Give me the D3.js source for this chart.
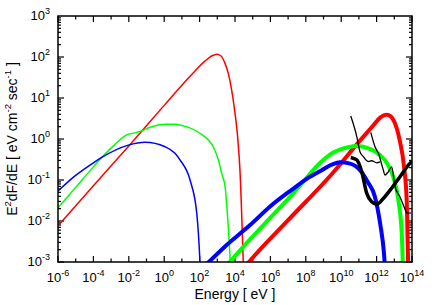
<!DOCTYPE html>
<html>
<head>
<meta charset="utf-8">
<style>
  body { margin: 0; background: #fff; }
  svg text { font-family: "Liberation Sans", Arial, sans-serif; fill: #000; }
</style>
</head>
<body>
<svg id="chart"></svg>
<script src="https://d3js.org/d3.v7.min.js"></script>
<script>
const width = 436, height = 305;
const margin = {top: 16, right: 24, bottom: 43, left: 58};

// points are [log10 E (eV), log10 E^2 dF/dE]
const redSync = [[-6,-2.12],[-4,-1.14],[-2,-0.17],[0,0.82],[1.5,1.55],[2.3,1.9],[2.7,2.03],[2.97,2.07],
  [3.2,2.03],[3.43,1.85],[3.62,1.6],[3.81,1.2],[4.0,0.63],[4.15,0.05],[4.28,-0.76],[4.48,-3.2]];
const greenSync = [[-6,-1.68],[-5,-1.18],[-4,-0.68],[-3.53,-0.45],[-2.78,-0.13],[-2.12,0.10],[-1.65,0.15],
  [-1.27,0.20],[-0.71,0.30],[0.1,0.36],[0.6,0.36],[1.08,0.32],[2.02,0.14],[2.77,-0.19],[3.06,-0.51],
  [3.25,-0.84],[3.44,-1.16],[3.58,-1.9],[3.72,-2.9],[3.75,-3.2]];
const blueSync = [[-6,-1.27],[-5.04,-0.9],[-4,-0.58],[-3.53,-0.45],[-2.03,-0.15],[-1.08,-0.08],[0.05,-0.19],
  [0.61,-0.35],[0.89,-0.51],[1.46,-1.0],[1.84,-1.81],[2.02,-3.0],[2.05,-3.3]];

const redIC = [[4.5,-3.15],[4.85,-2.97],[7.0,-1.98],[9.46,-0.86],[11.06,-0.04],[11.81,0.33],[12.2,0.52],
  [12.56,0.59],[12.8,0.55],[13.0,0.42],[13.3,-0.02],[13.55,-0.68],[13.7,-1.49],[13.78,-3.0],[13.8,-3.3]];
const greenIC = [[3.3,-3.2],[4.85,-2.45],[6.0,-1.92],[7.2,-1.37],[8.0,-0.97],[8.58,-0.68],[9.1,-0.47],
  [9.55,-0.33],[9.93,-0.26],[10.4,-0.2],[10.88,-0.17],[11.5,-0.22],[12.19,-0.39],[12.6,-0.6],[12.94,-0.92],
  [13.23,-1.49],[13.42,-2.3],[13.5,-3.3]];
const blueIC = [[2.4,-3.05],[3.44,-2.62],[4.85,-2.1],[6.0,-1.64],[7.2,-1.24],[8.2,-0.93],[8.9,-0.76],
  [9.5,-0.62],[9.93,-0.57],[10.5,-0.6],[11.06,-0.76],[11.5,-1.05],[11.9,-1.4],[12.2,-2.06],[12.42,-2.8],[12.5,-3.3]];

const sensThin1 = [[10.54,0.56],[10.88,0.06],[11.06,-0.31],[11.25,-0.43],[11.53,-0.55],[11.72,-0.53],
  [12.01,-0.58],[12.19,-0.56]];
const sensThin2 = [[11.67,0.16],[11.91,-0.19],[12.10,-0.35],[12.38,-0.76],[12.47,-0.88],[12.66,-0.80],
  [12.85,-0.68],[13.04,-1.16],[13.32,-1.41],[13.55,-1.65],[13.73,-1.81],[13.94,-1.80]];
const sensThick = [[10.54,-0.45],[10.88,-0.51],[11.16,-0.80],[11.44,-1.32],[11.72,-1.53],[12.01,-1.59],
  [12.38,-1.45],[12.85,-1.20],[13.32,-0.92],[13.89,-0.59],[14.0,-0.54]];

const xTickExps = [-6,-4,-2,0,2,4,6,8,10,12,14];
const yTickExps = [-3,-2,-1,0,1,2,3];

const svg = d3.select('#chart').attr('width', width).attr('height', height);
const x = d3.scaleLog().domain([1e-6, 1e14]).range([margin.left, width - margin.right]);
const y = d3.scaleLog().domain([1e-3, 1e3]).range([height - margin.bottom, margin.top]);
const x0 = margin.left, x1 = width - margin.right, y0 = height - margin.bottom, y1 = margin.top;

svg.append('clipPath').attr('id', 'clip').append('rect')
  .attr('x', x0).attr('y', y1).attr('width', x1 - x0).attr('height', y0 - y1);

// ticks
const tickG = svg.append('g').attr('stroke', '#000').attr('stroke-width', 1.2);
for (let e = -6; e <= 14; e++) {
  const len = e % 2 === 0 ? 6 : 3.5;
  const px = x(Math.pow(10, e));
  tickG.append('line').attr('x1', px).attr('x2', px).attr('y1', y0).attr('y2', y0 - len);
  tickG.append('line').attr('x1', px).attr('x2', px).attr('y1', y1).attr('y2', y1 + len);
}
for (let e = -3; e < 3; e++) {
  for (let m = 1; m <= 9; m++) {
    const py = y(m * Math.pow(10, e));
    const len = m === 1 ? 6 : 3;
    tickG.append('line').attr('x1', x0).attr('x2', x0 + len).attr('y1', py).attr('y2', py);
    tickG.append('line').attr('x1', x1).attr('x2', x1 - len).attr('y1', py).attr('y2', py);
  }
}

// tick labels
function powLabel(sel, exp) {
  sel.append('tspan').text('10');
  sel.append('tspan').attr('dy', -6).attr('font-size', 9).text(exp);
}
xTickExps.forEach(e => {
  const t = svg.append('text').attr('x', x(Math.pow(10, e))).attr('y', y0 + 20)
    .attr('text-anchor', 'middle').attr('font-size', 13);
  powLabel(t, e);
});
yTickExps.forEach(e => {
  const t = svg.append('text').attr('x', 50).attr('y', y(Math.pow(10, e)) + 4)
    .attr('text-anchor', 'end').attr('font-size', 13);
  powLabel(t, e);
});

// axis titles
svg.append('text').attr('x', (x0 + x1) / 2).attr('y', 299).attr('text-anchor', 'middle')
  .attr('font-size', 14).text('Energy [ eV ]');
const yl = svg.append('text').attr('transform', `translate(17,${(y0 + y1) / 2}) rotate(-90)`)
  .attr('text-anchor', 'middle').attr('font-size', 14);
yl.append('tspan').text('E');
yl.append('tspan').attr('dy', -6).attr('font-size', 9.5).text('2');
yl.append('tspan').attr('dy', 6).text('dF/dE [ eV cm');
yl.append('tspan').attr('dy', -6).attr('font-size', 9.5).text('-2');
yl.append('tspan').attr('dy', 6).text(' sec');
yl.append('tspan').attr('dy', -6).attr('font-size', 9.5).text('-1');
yl.append('tspan').attr('dy', 6).text(' ]');

// curves
const line = d3.line()
  .x(d => x(Math.pow(10, d[0])))
  .y(d => y(Math.pow(10, d[1])))
  .curve(d3.curveMonotoneX);
const plot = svg.append('g').attr('clip-path', 'url(#clip)').attr('fill', 'none')
  .attr('stroke-linejoin', 'round');
const series = [
  [redSync, '#ff0000', 1.5], [greenSync, '#00ff00', 1.5], [blueSync, '#0000ff', 1.5],
  [redIC, '#ff0000', 4], [greenIC, '#00ff00', 4], [blueIC, '#0000ff', 4],
  [sensThin1, '#000', 1.3], [sensThin2, '#000', 1.3], [sensThick, '#000', 3.5]
];
series.forEach(([data, color, w]) => {
  plot.append('path').datum(data).attr('d', line).attr('stroke', color).attr('stroke-width', w);
});

// frame
svg.append('rect').attr('x', x0).attr('y', y1).attr('width', x1 - x0).attr('height', y0 - y1)
  .attr('fill', 'none').attr('stroke', '#000').attr('stroke-width', 1.5);
</script>
</body>
</html>
